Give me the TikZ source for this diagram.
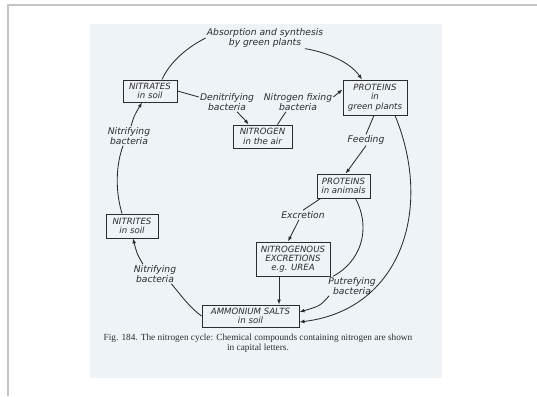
\documentclass[tikz,border=0pt]{standalone}
\usepackage{fontspec}
\setmainfont{Liberation Serif}
\setsansfont{DejaVu Sans}
\usetikzlibrary{arrows.meta,positioning,calc}
\definecolor{ScanBlue}{HTML}{EEF3F8}
\definecolor{InkGrey}{HTML}{2C2C2C}
\definecolor{FrameGrey}{HTML}{C4C4C4}

\begin{document}
\begin{tikzpicture}[x=1pt,y=-1pt,
  compound/.style={draw=InkGrey,line width=0.9pt,inner sep=1pt,align=center,text=InkGrey,font=\sffamily\itshape\fontsize{8.6}{9.3}\selectfont},
  agent/.style={inner sep=1pt,align=center,text=InkGrey,font=\sffamily\itshape\fontsize{9.2}{10}\selectfont},
  flow/.style={draw=InkGrey,line width=0.85pt},
  flowarr/.style={flow,-{Latex[length=5pt,width=3.8pt]}},
]
\useasboundingbox (0,0) rectangle (537,396);
% page frame and scanned sheet
\draw[FrameGrey,line width=1.5pt] (8,396) -- (8,5) -- (537,5);
\fill[ScanBlue] (90,24) rectangle (442,378);

% compounds
\node[compound,minimum width=54pt,minimum height=22pt] (nitrates) at (150,91) {NITRATES\\in soil};
\node[compound,minimum width=64pt,minimum height=35pt] (plantprot) at (375,97.5) {PROTEINS\\in\\green plants};
\node[compound,minimum width=59pt,minimum height=23pt] (nitrogen) at (262.5,136.5) {NITROGEN\\in the air};
\node[compound,minimum width=53pt,minimum height=24pt] (animprot) at (343.5,186) {PROTEINS\\in animals};
\node[compound,minimum width=52pt,minimum height=24pt] (nitrites) at (132,226) {NITRITES\\in soil};
\node[compound,minimum width=74pt,minimum height=34pt] (excr) at (293,259) {NITROGENOUS\\EXCRETIONS\\e.g. UREA};
\node[compound,minimum width=97pt,minimum height=22pt] (ammonium) at (250.5,316) {AMMONIUM SALTS\\in soil};

% agents
\node[agent] (absorb) at (265,38) {Absorption and synthesis\\by green plants};
\node[agent] (denit) at (227,102) {Denitrifying\\bacteria};
\node[agent] (nfix) at (298,102) {Nitrogen fixing\\bacteria};
\node[agent] (nitrif1) at (129,136) {Nitrifying\\bacteria};
\node[agent] (feeding) at (366,140) {Feeding};
\node[agent] (excretion) at (303,215) {Excretion};
\node[agent] (nitrif2) at (155,274) {Nitrifying\\bacteria};
\node[agent] (putref) at (352,286) {Putrefying\\bacteria};

% caption
\node[inner sep=0pt,align=center,text=InkGrey,font=\fontsize{9.3}{10}\selectfont] (caption) at (258,343)
  {\textsc{Fig.} 184. The nitrogen cycle: Chemical compounds containing nitrogen are shown\\in capital letters.};

% outer cycle
\draw[flow] ([xshift=12pt]nitrates.north) .. controls (168,66) and (182,50) .. (absorb.west);
\draw[flowarr] ([xshift=40pt]absorb.south) .. controls (326,52) and (350,62) .. ([xshift=-13pt]plantprot.north);
\draw[flowarr] ([xshift=20pt]plantprot.south) .. controls (434,210) and (400,310) .. ([yshift=-6pt]ammonium.east);
\draw[flow] (ammonium.west) .. controls (190,308) and (180,294) .. ([xshift=-6pt]nitrif2.south east);
\draw[flowarr] ([xshift=-12pt]nitrif2.north) .. controls (137,254) .. ([xshift=1pt]nitrites.south);
\draw[flow] ([xshift=-10pt]nitrites.north) .. controls (115,190) and (116,165) .. ([xshift=-6pt]nitrif1.south);
\draw[flowarr] ([xshift=2pt]nitrif1.north) .. controls (134,116) .. ([xshift=-8pt]nitrates.south);

% air exchange
\draw[flow] (nitrates.east) -- ([yshift=5pt]denit.west);
\draw[flowarr] ([xshift=10pt]denit.south) .. controls (242,116) .. ([xshift=-14pt]nitrogen.north);
\draw[flow] ([xshift=15pt]nitrogen.north) .. controls (283,116) .. ([xshift=-12pt]nfix.south);
\draw[flowarr] ([yshift=5pt]nfix.east) -- ([yshift=8pt]plantprot.west);

% animals
\draw[flow] ([xshift=-1pt]plantprot.south) -- (feeding.north);
\draw[flowarr] (feeding.south) .. controls (358,158) .. ([xshift=2pt]animprot.north);
\draw[flow] ([xshift=4pt]animprot.south west) -- (excretion.north);
\draw[flowarr] ([xshift=-4pt]excretion.south) -- ([xshift=-5pt]excr.north);
\draw[flowarr] ([xshift=-14pt]excr.south) -- ([xshift=-14pt]excr.south |- ammonium.north);
\draw[flow] ([xshift=12pt]animprot.south) .. controls (372,230) and (360,262) .. ([xshift=6pt]putref.north west);
\draw[flowarr] ([xshift=2pt]putref.south west) .. controls (320,306) .. ([yshift=4pt]ammonium.east);
\end{tikzpicture}
\end{document}
